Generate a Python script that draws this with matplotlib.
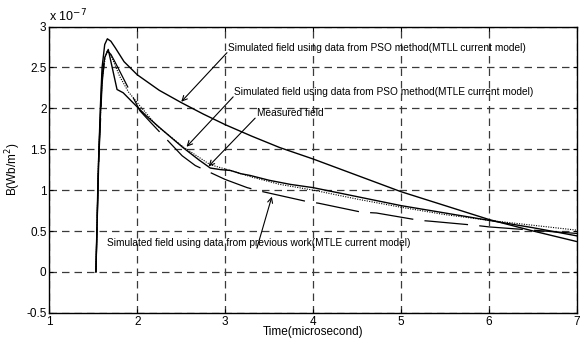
import matplotlib
matplotlib.use("Agg")
import matplotlib.pyplot as plt

plt.rcParams['font.family'] = ['Liberation Sans', 'DejaVu Sans']

# Data (B in units of 1e-7 Wb/m^2, time in microseconds)
t_mtll = [1.53, 1.555, 1.58, 1.60, 1.63, 1.66, 1.70, 1.75, 1.85, 2.0, 2.25, 2.5, 2.75,
          3.0, 3.3, 3.62, 4.0, 4.5, 5.0, 5.5, 6.0, 6.5, 7.0]
b_mtll = [0, 1.2, 2.0, 2.5, 2.78, 2.85, 2.82, 2.74, 2.57, 2.41, 2.22, 2.07, 1.93,
          1.80, 1.66, 1.52, 1.38, 1.18, 0.98, 0.81, 0.64, 0.50, 0.37]

t_meas = [1.53, 1.565, 1.60, 1.63, 1.67, 1.77, 1.84, 1.95, 2.1, 2.28, 2.52, 2.7, 2.83,
          2.95, 3.06, 3.18, 3.28, 3.5, 3.74, 4.0, 4.5, 5.0, 5.5, 6.0, 6.5, 7.0]
b_meas = [0, 1.5, 2.4, 2.62, 2.72, 2.23, 2.19, 2.07, 1.91, 1.74, 1.52, 1.37, 1.27,
          1.25, 1.24, 1.20, 1.18, 1.12, 1.07, 1.03, 0.92, 0.81, 0.72, 0.63, 0.54, 0.44]

t_mtle = [1.53, 1.56, 1.60, 1.64, 1.67, 1.72, 1.80, 1.9, 2.03, 2.22, 2.52, 2.83, 3.06,
          3.3, 3.62, 4.0, 4.5, 5.0, 5.5, 6.0, 6.5, 7.0]
b_mtle = [0, 1.4, 2.35, 2.65, 2.71, 2.60, 2.39, 2.20, 2.03, 1.79, 1.53, 1.31, 1.24,
          1.16, 1.07, 1.0, 0.89, 0.79, 0.70, 0.63, 0.57, 0.51]

t_prev = [1.53, 1.56, 1.60, 1.63, 1.66, 1.70, 1.75, 2.03, 2.15, 2.51, 2.66, 3.0, 3.25,
          3.43, 3.93, 4.06, 4.55, 4.72, 5.21, 5.33, 5.84, 6.0, 6.5, 7.0]
b_prev = [0, 1.3, 2.3, 2.62, 2.70, 2.66, 2.56, 1.97, 1.83, 1.42, 1.30, 1.13, 1.03,
          0.98, 0.86, 0.84, 0.73, 0.72, 0.63, 0.62, 0.57, 0.55, 0.51, 0.47]

x_ticks = [1, 2, 3, 4, 5, 6, 7]
y_ticks = [-0.5, 0, 0.5, 1, 1.5, 2, 2.5, 3]
y_ticklabels = ['-0.5', '0', '0.5', '1', '1.5', '2', '2.5', '3']

fig = plt.figure(figsize=(5.8, 3.4), dpi=100)
ax = fig.add_axes([0.085, 0.080, 0.910, 0.842])

ax.plot(t_mtll, b_mtll, color='black', lw=1.0)
ax.plot(t_meas, b_meas, color='black', lw=1.0)
ax.plot(t_mtle, b_mtle, color='black', lw=0.8, linestyle=(0, (1, 1.2)))
ax.plot(t_prev, b_prev, color='black', lw=0.9, linestyle=(0, (35, 9)))

ax.set_xlim(1, 7)
ax.set_ylim(-0.5, 3)
ax.set_xticks(x_ticks)
ax.set_yticks(y_ticks)
ax.set_yticklabels(y_ticklabels)
ax.tick_params(direction='in', length=3, labelsize=8.5, top=True, right=True,
               width=0.8, pad=2)
for s in ax.spines.values():
    s.set_linewidth(1.0)

ax.grid(True, color='#3a3a3a', linestyle=(0, (6, 4)), lw=0.9)

ax.set_xlabel('Time(microsecond)', fontsize=8.5, labelpad=-1)
ax.set_ylabel('B(Wb/m$^2$)', fontsize=8.5, labelpad=2)
ax.text(0.0, 1.008, r'x 10$^{-7}$', transform=ax.transAxes, fontsize=9,
        ha='left', va='bottom')

fs = 7.3
ax.text(3.03, 2.74, 'Simulated field using data from PSO method(MTLL current model)',
        fontsize=fs, ha='left', va='center')
ax.text(3.10, 2.20, 'Simulated field using data from PSO method(MTLE current model)',
        fontsize=fs, ha='left', va='center')
ax.text(3.36, 1.94, 'Measured field', fontsize=fs, ha='left', va='center')
ax.text(1.66, 0.35, 'Simulated field using data from previous work(MTLE current model)',
        fontsize=fs, ha='left', va='center')

ap = dict(arrowstyle='->', color='black', lw=0.8, shrinkA=0, shrinkB=0,
          mutation_scale=9)
ax.annotate('', xy=(2.5, 2.08), xytext=(3.02, 2.68), arrowprops=ap)
ax.annotate('', xy=(2.56, 1.53), xytext=(3.09, 2.14), arrowprops=ap)
ax.annotate('', xy=(2.81, 1.29), xytext=(3.34, 1.88), arrowprops=ap)
ax.annotate('', xy=(3.53, 0.92), xytext=(3.36, 0.29), arrowprops=ap)

fig.savefig('out.png', dpi=100)
